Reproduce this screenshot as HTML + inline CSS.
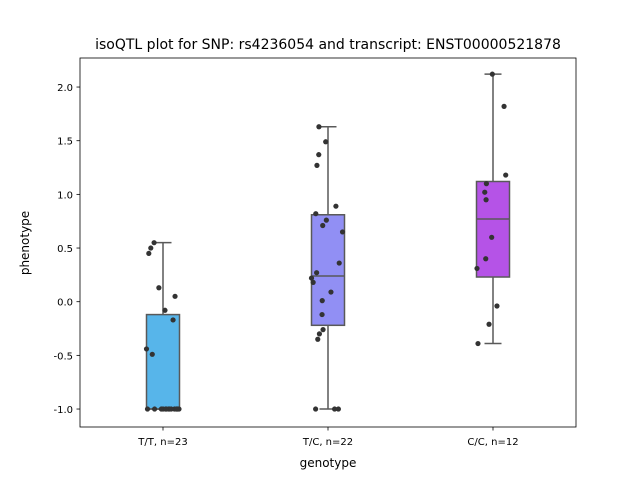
<!DOCTYPE html>
<html><head><meta charset="utf-8"><style>
body{margin:0;background:#fff;font-family:"Liberation Sans","DejaVu Sans",sans-serif}
svg text{font-family:"DejaVu Sans","Liberation Sans",sans-serif;fill:#000}
</style></head><body>
<svg id="chart" width="640" height="480" xmlns="http://www.w3.org/2000/svg">
<rect width="640" height="480" fill="#fff"/>
<text x="328" y="49" font-size="14" text-anchor="middle">isoQTL plot for SNP: rs4236054 and transcript: ENST00000521878</text>
<g id="plot"></g>
<rect x="80" y="58" width="496" height="369" fill="none" stroke="#000" stroke-width="0.8"/>
<text x="328" y="467" font-size="12" text-anchor="middle">genotype</text>
<text transform="translate(29,243) rotate(-90)" font-size="12" text-anchor="middle">phenotype</text>
</svg>
<script>
const categories=["T/T, n=23","T/C, n=22","C/C, n=12"];
const colors=["#57b5ea","#918ff4","#b553e7"];
const yTicks=[-1.0,-0.5,0.0,0.5,1.0,1.5,2.0];
const boxQ1=[-1.0,-0.22,0.23];
const boxMedian=[-1.0,0.24,0.77];
const boxQ3=[-0.12,0.81,1.12];
const whiskerLow=[-1.0,-1.0,-0.39];
const whiskerHigh=[0.55,1.63,2.12];
const g1Values=[0.55,0.50,0.45,0.13,0.05,-0.08,-0.17,-0.44,-0.49,-1,-1,-1,-1,-1,-1,-1,-1,-1,-1,-1,-1,-1,-1];
const g1Jitter=[-0.054,-0.074,-0.086,-0.025,0.073,0.012,0.061,-0.1,-0.065,-0.094,-0.051,0,0.016,0.034,0.081,0.097,0.09,0.04,0.02,-0.01,0.07,0.085,0.05];
const g2Values=[1.63,1.49,1.37,1.27,0.89,0.82,0.76,0.71,0.65,0.36,0.27,0.22,0.18,0.09,0.01,-0.12,-0.26,-0.30,-0.35,-1,-1,-1];
const g2Jitter=[-0.055,-0.014,-0.056,-0.067,0.048,-0.074,-0.01,-0.032,0.088,0.068,-0.069,-0.1,-0.09,0.018,-0.035,-0.036,-0.03,-0.052,-0.062,-0.075,0.04,0.063];
const g3Values=[2.12,1.82,1.18,1.10,1.02,0.95,0.60,0.40,0.31,-0.04,-0.21,-0.39];
const g3Jitter=[-0.004,0.067,0.077,-0.04,-0.05,-0.042,-0.008,-0.044,-0.097,0.024,-0.024,-0.091];
const groupValues=[g1Values,g2Values,g3Values];
const groupJitter=[g1Jitter,g2Jitter,g3Jitter];
const NS="http://www.w3.org/2000/svg";
const plot=document.getElementById('plot');
const svg=document.getElementById('chart');
function y(v){return 301.7-v*107.33;}
function x(i){return 163+i*165;}
const bandW=165;
function mk(tag,attrs,parent){const e=document.createElementNS(NS,tag);for(const k in attrs)e.setAttribute(k,attrs[k]);(parent||plot).appendChild(e);return e;}
yTicks.forEach(t=>{
  const l=mk('line',{x1:76.5,x2:80,y1:y(t),y2:y(t),stroke:'#000','stroke-width':0.8},svg);
  
  
  const tx=mk('text',{x:73,y:y(t)+4,'font-size':10,'text-anchor':'end'},svg);
  tx.textContent=t.toFixed(1);
  
  
});
categories.forEach((c,i)=>{
  const cx=x(i);
  const l=mk('line',{x1:cx,x2:cx,y1:427,y2:430.5,stroke:'#000','stroke-width':0.8},svg);
  
  
  const tx=mk('text',{x:cx,y:445,'font-size':10,'text-anchor':'middle'},svg);
  tx.textContent=c;
  
  
  const st='#595959';
  const w1=mk('line',{x1:cx,x2:cx,y1:y(boxQ3[i]),y2:y(whiskerHigh[i]),stroke:st,'stroke-width':1.5});
  
  
  const w2=mk('line',{x1:cx,x2:cx,y1:y(boxQ1[i]),y2:y(whiskerLow[i]),stroke:st,'stroke-width':1.5});
  
  
  [whiskerHigh[i],whiskerLow[i]].forEach(v=>{
    const cap=mk('line',{x1:cx-8.5,x2:cx+8.5,y1:y(v),y2:y(v),stroke:st,'stroke-width':1.5});
    
    
  });
  const b=mk('rect',{x:cx-16.5,y:y(boxQ3[i]),width:33,height:Math.max(0,y(boxQ1[i])-y(boxQ3[i])),fill:colors[i],stroke:st,'stroke-width':1.5});
  
  
  const m=mk('line',{x1:cx-16.5,x2:cx+16.5,y1:y(boxMedian[i]),y2:y(boxMedian[i]),stroke:st,'stroke-width':1.5});
  
  
  groupValues[i].forEach((v,j)=>{
    const p=mk('circle',{cx:cx+groupJitter[i][j]*bandW,cy:y(v),r:2.6,fill:'#333'});
    
    
  });
});
</script>
</body></html>
